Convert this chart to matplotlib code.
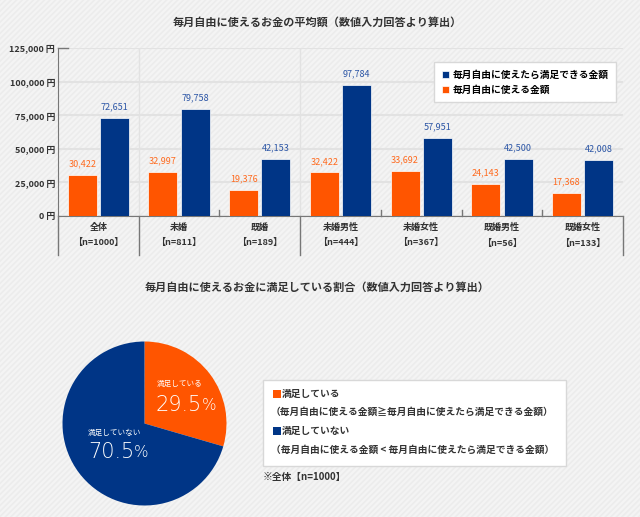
import matplotlib
matplotlib.use('Agg')
import matplotlib.pyplot as plt
from matplotlib.patches import Rectangle
import numpy as np

plt.rcParams['font.family'] = ['Noto Sans CJK JP', 'DejaVu Sans']
plt.rcParams['hatch.linewidth'] = 1.2

# 平均額（数値入力回答より算出）
categories = ['全体', '未婚', '既婚', '未婚男性', '未婚女性', '既婚男性', '既婚女性']
n_labels = ['【n=1000】', '【n=811】', '【n=189】', '【n=444】', '【n=367】', '【n=56】', '【n=133】']
actual = [30422, 32997, 19376, 32422, 33692, 24143, 17368]
desired = [72651, 79758, 42153, 97784, 57951, 42500, 42008]
yticks = [0, 25000, 50000, 75000, 100000, 125000]

# 満足している割合
pie_labels = ['満足している', '満足していない']
pie_values = [29.5, 70.5]

ORANGE = '#ff5500'
BLUE = '#003586'
TXT = '#333333'

W, H = 640, 517
fx = lambda px: px / W
fy = lambda py: 1 - py / H

fig = plt.figure(figsize=(6.4, 5.17), dpi=100)
fig.patch.set_facecolor('#f4f4f4')
fig.patches.append(Rectangle((0, 0), 1, 1, transform=fig.transFigure, facecolor='#f4f4f4',
                             edgecolor='#ececec', hatch='//////', lw=0, zorder=-10))

# ---- 棒グラフ ----
ax = fig.add_axes([fx(58), fy(216), fx(623) - fx(58), (216 - 48) / H])
ax.set_facecolor('none')
x = np.arange(len(categories))
b1 = ax.bar(x - 0.2, actual, 0.36, color=ORANGE, edgecolor='white', lw=0.5, zorder=3)
b2 = ax.bar(x + 0.2, desired, 0.36, color=BLUE, edgecolor='white', lw=0.5, zorder=3)
for xi, v in zip(x, actual):
    ax.annotate(f'{v:,}', (xi - 0.2, v), xytext=(0, 8), textcoords='offset points',
                ha='center', va='center', fontsize=6.5, color='#ff6a1e')
for xi, v in zip(x, desired):
    ax.annotate(f'{v:,}', (xi + 0.2, v), xytext=(0, 8), textcoords='offset points',
                ha='center', va='center', fontsize=6.5, color='#2c56a6')

ax.set_xlim(-0.5, len(categories) - 0.5)
ax.set_ylim(0, 125000)
ax.set_yticks(yticks, [f'{v:,} 円' for v in yticks], fontsize=6.5, fontweight='bold', color=TXT)
ax.tick_params(axis='y', length=0, pad=2)
ax.set_xticks(x, [f'{c}\n{n}' for c, n in zip(categories, n_labels)],
              fontsize=6.5, fontweight='bold', color=TXT, linespacing=1.9)
ax.tick_params(axis='x', length=0, pad=5)
ax.yaxis.grid(True, color='#e2e2e2', lw=1.5)
ax.set_axisbelow(True)
for xv in [0.5, 2.5]:
    ax.axvline(xv, color='#e2e2e2', lw=1, zorder=0)
for s in ['top', 'right']:
    ax.spines[s].set_visible(False)
for s in ['left', 'bottom']:
    ax.spines[s].set_color('#777777')

# カテゴリ区切り線
tr = ax.get_xaxis_transform()
for xv in [-0.5, 0.5, 2.5, 6.5]:
    ax.plot([xv, xv], [0, -0.232], transform=tr, clip_on=False, color='#777777', lw=1)
for xv in [1.5, 3.5, 4.5, 5.5]:
    ax.plot([xv, xv], [0, 0.036], transform=tr, clip_on=False, color='#777777', lw=1)
# 左上の短い目盛り
ax.plot([0, 0.018], [1, 1], transform=ax.transAxes, clip_on=False, color='#777777', lw=1)

ax.legend([b2, b1], ['毎月自由に使えたら満足できる金額', '毎月自由に使える金額'],
          loc='upper right', bbox_to_anchor=(fx(616), fy(62)), bbox_transform=fig.transFigure,
          prop={'size': 7, 'weight': 'bold'}, handlelength=0.8, handleheight=0.8,
          handletextpad=0.3, fancybox=False, edgecolor='#d8d8d8', framealpha=1,
          borderpad=0.8, labelspacing=0.5, borderaxespad=0)

fig.text(fx(317), fy(22), '毎月自由に使えるお金の平均額（数値入力回答より算出）',
         ha='center', va='center', fontsize=8, fontweight='bold', color=TXT)

# ---- 円グラフ ----
fig.text(fx(317), fy(287), '毎月自由に使えるお金に満足している割合（数値入力回答より算出）',
         ha='center', va='center', fontsize=8, fontweight='bold', color=TXT)

pax = fig.add_axes([fx(144.5 - 82), fy(423.5 + 82), 164 / W, 164 / H])
pax.pie(pie_values, colors=[ORANGE, BLUE], startangle=90, counterclock=False)
pax.set_xlim(-1, 1)
pax.set_ylim(-1, 1)

label_pos = [((0.15, 0.48), (0.13, 0.22)), ((-0.69, -0.12), (-0.69, -0.35))]
for name, v, (p1, p2) in zip(pie_labels, pie_values, label_pos):
    pax.text(*p1, name, ha='left', va='center', fontsize=5.5, color='white')
    t = pax.text(*p2, f'{v}', ha='left', va='center', fontsize=15, color='white',
                 family='DejaVu Sans', fontweight='light')
    pax.annotate('%', xy=(1, 0.12), xycoords=t, ha='left', va='bottom', fontsize=11,
                 color='white', family='DejaVu Sans', fontweight='light')

# 凡例ボックス
fig.patches.append(Rectangle((fx(263), fy(466)), (566 - 263) / W, (466 - 380) / H,
                             transform=fig.transFigure, facecolor='white',
                             edgecolor='#d8d8d8', lw=1))
entries = [(ORANGE, pie_labels[0]),
           (None, '（毎月自由に使える金額≧毎月自由に使えたら満足できる金額）'),
           (BLUE, pie_labels[1]),
           (None, '（毎月自由に使える金額 < 毎月自由に使えたら満足できる金額）')]
for (c, txt), yp in zip(entries, [394, 412, 431, 450]):
    if c is not None:
        fig.patches.append(Rectangle((fx(273), fy(yp + 4)), 8 / W, 8 / H,
                                     transform=fig.transFigure, facecolor=c, lw=0))
        fig.text(fx(282), fy(yp), txt, ha='left', va='center', fontsize=7,
                 fontweight='bold', color=TXT)
    else:
        fig.text(fx(271), fy(yp), txt, ha='left', va='center', fontsize=7,
                 fontweight='bold', color=TXT)

fig.text(fx(263), fy(477), '※全体【n=1000】', ha='left', va='center', fontsize=7,
         fontweight='bold', color=TXT)

fig.savefig('out.png', dpi=100, facecolor=fig.get_facecolor())
